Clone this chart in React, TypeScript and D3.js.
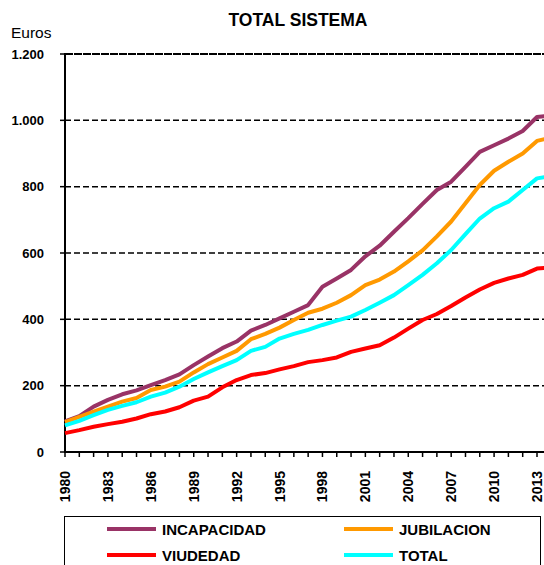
import { useEffect, useRef } from "react";
import * as d3 from "d3";

const years = d3.range(1980, 2015);
const tickYears = [1980, 1983, 1986, 1989, 1992, 1995, 1998, 2001, 2004, 2007, 2010, 2013];
const yTicks = [0, 200, 400, 600, 800, 1000, 1200];

const incapacidad = [92, 108, 137, 157, 174, 186, 202, 217, 234, 262, 288, 313, 333, 366, 383, 403, 423, 443, 498, 523, 549, 590, 622, 664, 705, 748, 790, 815, 860, 905, 925, 945, 968, 1010, 1015];
const jubilacion = [90, 106, 122, 137, 152, 163, 187, 197, 212, 240, 265, 285, 305, 340, 356, 375, 398, 420, 432, 450, 473, 503, 520, 544, 575, 608, 650, 695, 750, 805, 848, 875, 900, 938, 948];
const viudedad = [57, 66, 76, 84, 91, 101, 114, 122, 135, 155, 167, 195, 217, 232, 238, 249, 259, 271, 277, 285, 302, 312, 322, 345, 372, 398, 416, 440, 466, 490, 510, 523, 534, 553, 556];
const total = [80, 94, 111, 127, 139, 150, 167, 179, 197, 220, 240, 259, 277, 305, 317, 342, 356, 368, 383, 396, 408, 428, 450, 473, 503, 534, 569, 609, 657, 704, 735, 755, 790, 825, 832];

const series = [
  { name: "INCAPACIDAD", values: incapacidad, color: "#993366" },
  { name: "JUBILACION", values: jubilacion, color: "#FF9900" },
  { name: "VIUDEDAD", values: viudedad, color: "#FF0000" },
  { name: "TOTAL", values: total, color: "#00FFFF" },
];

const W = 544;
const H = 565;
const font = "'Liberation Sans', Arial, sans-serif";

export default function App() {
  const ref = useRef<SVGSVGElement>(null);

  useEffect(() => {
    const svg = d3.select(ref.current);
    svg.selectAll("*").remove();

    const x = d3.scaleLinear().domain([1980, 2013]).range([65, 537]);
    const y = d3.scaleLinear().domain([0, 1200]).range([452, 54]);

    svg
      .append("text")
      .attr("x", 298)
      .attr("y", 26)
      .attr("text-anchor", "middle")
      .attr("font-family", font)
      .attr("font-weight", "bold")
      .attr("font-size", 17.5)
      .text("TOTAL SISTEMA");

    svg
      .append("text")
      .attr("x", 11)
      .attr("y", 38)
      .attr("font-family", font)
      .attr("font-size", 15.5)
      .text("Euros");

    // gridlines
    svg
      .selectAll("line.grid")
      .data(yTicks.filter((t) => t > 0))
      .join("line")
      .attr("class", "grid")
      .attr("x1", 65)
      .attr("x2", W)
      .attr("y1", (d) => y(d))
      .attr("y2", (d) => y(d))
      .attr("stroke", "#000")
      .attr("stroke-width", (d) => (d === 1200 ? 2 : 1.5))
      .attr("stroke-dasharray", (d) => (d === 1200 ? "8,1" : "6,3"));

    // y axis
    svg.append("line").attr("x1", 65).attr("x2", 65).attr("y1", 53).attr("y2", 453).attr("stroke", "#000").attr("stroke-width", 2);
    svg
      .selectAll("line.ytick")
      .data(yTicks)
      .join("line")
      .attr("class", "ytick")
      .attr("x1", 60)
      .attr("x2", 65)
      .attr("y1", (d) => y(d))
      .attr("y2", (d) => y(d))
      .attr("stroke", "#000")
      .attr("stroke-width", 1.5);
    svg
      .selectAll("text.ylab")
      .data(yTicks)
      .join("text")
      .attr("class", "ylab")
      .attr("x", 44)
      .attr("y", (d) => y(d) + 4.5)
      .attr("text-anchor", "end")
      .attr("font-family", font)
      .attr("font-weight", "bold")
      .attr("font-size", 13)
      .text((d) => d3.format(",")(d).replace(",", "."));

    // x axis
    svg.append("line").attr("x1", 64).attr("x2", W).attr("y1", 452).attr("y2", 452).attr("stroke", "#000").attr("stroke-width", 2);
    svg
      .selectAll("line.xtick")
      .data(years)
      .join("line")
      .attr("class", "xtick")
      .attr("x1", (d) => x(d))
      .attr("x2", (d) => x(d))
      .attr("y1", 452)
      .attr("y2", 457)
      .attr("stroke", "#000")
      .attr("stroke-width", 1.5);
    svg
      .selectAll("text.xlab")
      .data(tickYears)
      .join("text")
      .attr("class", "xlab")
      .attr("transform", (d) => `translate(${x(d) + 5},471) rotate(-90)`)
      .attr("text-anchor", "end")
      .attr("font-family", font)
      .attr("font-weight", "bold")
      .attr("font-size", 14)
      .text((d) => d);

    // lines
    const line = d3
      .line<number>()
      .x((_, i) => x(years[i]))
      .y((d) => y(d));
    svg
      .selectAll("path.series")
      .data([series[0], series[1], series[3], series[2]])
      .join("path")
      .attr("class", "series")
      .attr("d", (s) => line(s.values))
      .attr("fill", "none")
      .attr("stroke", (s) => s.color)
      .attr("stroke-width", 4)
      .attr("stroke-linejoin", "round");

    // legend
    svg
      .append("rect")
      .attr("x", 64.5)
      .attr("y", 516.5)
      .attr("width", 476)
      .attr("height", 60)
      .attr("fill", "#fff")
      .attr("stroke", "#000")
      .attr("stroke-width", 1);
    const legendPos = [
      { lx: 107, ly: 529 },
      { lx: 344, ly: 529 },
      { lx: 107, ly: 555 },
      { lx: 344, ly: 555 },
    ];
    const lg = svg
      .selectAll("g.legend")
      .data(series)
      .join("g")
      .attr("class", "legend")
      .attr("transform", (_, i) => `translate(${legendPos[i].lx},${legendPos[i].ly})`);
    lg.append("line").attr("x1", 0).attr("x2", 49).attr("stroke", (s) => s.color).attr("stroke-width", 4);
    lg.append("text")
      .attr("x", 55)
      .attr("y", 5.5)
      .attr("font-family", font)
      .attr("font-weight", "bold")
      .attr("font-size", 15)
      .text((s) => s.name);
  }, []);

  return (
    <svg
      ref={ref}
      width={W}
      height={H}
      style={{ position: "absolute", left: 0, top: 0, background: "#fff" }}
    />
  );
}
